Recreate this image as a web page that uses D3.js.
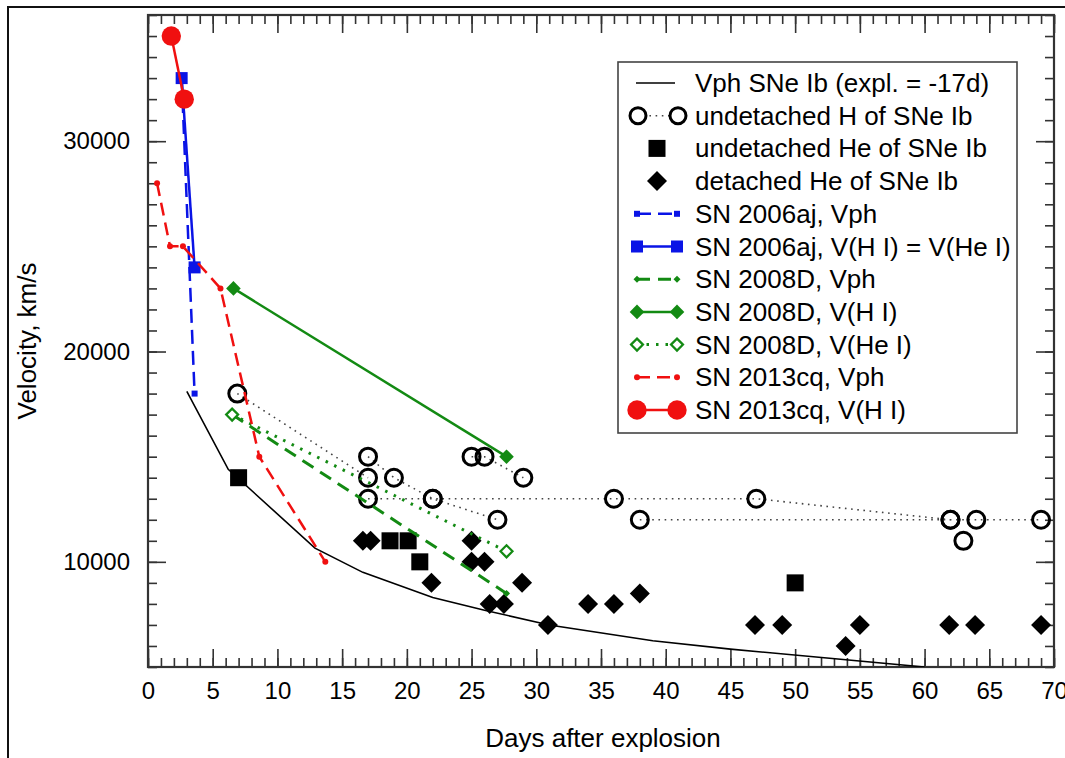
<!DOCTYPE html>
<html><head><meta charset="utf-8">
<script src="https://cdn.jsdelivr.net/npm/d3@7"></script>
<style>
body{margin:0;background:#fff;}
text{font-family:"Liberation Sans",Arial,Helvetica,sans-serif;fill:#000;}
</style></head><body>
<svg id="c" width="1065" height="758"></svg>
<script>
// ---- data ----
const xTicks = [0,5,10,15,20,25,30,35,40,45,50,55,60,65,70];
const yTicks = [10000,20000,30000];
const xLabel = "Days after explosion";
const yLabel = "Velocity, km/s";

// Vph of SNe Ib (expl. = -17d)
const vphIbDays = [3.0,6.2,12.9,16.6,22,26,31,39,45,60];
const vphIbVel  = [18100,14400,10650,9500,8300,7700,7000,6250,5850,5000];

// undetached H of SNe Ib (open circles, dotted lines per SN)
const hSeries = [
  {days:[6.9,17], vel:[18000,14000]},
  {days:[17,19,22,27], vel:[15000,14000,13000,12000]},
  {days:[17,22,36,47,62], vel:[13000,13000,13000,13000,12000]},
  {days:[25,26,29], vel:[15000,15000,14000]},
  {days:[38,62,64,69], vel:[12000,12000,12000,12000]},
  {days:[63], vel:[11000]}
];
// undetached He (filled squares)
const heSqDays = [7,18.7,20.1,21,50];
const heSqVel  = [14000,11000,11000,10000,9000];
// detached He (filled diamonds)
const heDiaDays = [16.6,17.2,21.9,25,25,26,26.4,27.5,28.9,30.9,34,36,38,46.9,49,53.9,55,61.9,63.9,69];
const heDiaVel  = [11000,11000,9000,11000,10000,10000,8000,8000,9000,7000,8000,8000,8500,7000,7000,6000,7000,7000,7000,7000];

// SN 2006aj
const aj06VphDays = [2.6,3.6];
const aj06VphVel  = [33000,18000];
const aj06HDays = [2.6,3.6];
const aj06HVel  = [33000,24000];
// SN 2008D
const d08VphDays = [6.5,27.7];
const d08VphVel  = [17000,8500];
const d08HDays = [6.6,27.7];
const d08HVel  = [23000,15000];
const d08HeDays = [6.5,27.7];
const d08HeVel  = [17000,10500];
// SN 2013cq
const cq13VphDays = [0.7,1.7,2.7,5.6,8.6,13.7];
const cq13VphVel  = [28000,25000,25000,23000,15000,10000];
const cq13HDays = [1.8,2.8];
const cq13HVel  = [35000,32000];

const legendLabels = [
  "Vph SNe Ib (expl. = -17d)",
  "undetached H of SNe Ib",
  "undetached He of SNe Ib",
  "detached He of SNe Ib",
  "SN 2006aj, Vph",
  "SN 2006aj, V(H I) = V(He I)",
  "SN 2008D, Vph",
  "SN 2008D, V(H I)",
  "SN 2008D, V(He I)",
  "SN 2013cq, Vph",
  "SN 2013cq, V(H I)"
];

// ---- drawing ----
const svg = d3.select("#c");
const L=148,R=1054,T=15,B=667;
const x = d3.scaleLinear().domain([0,70]).range([L,R]);
const y = d3.scaleLinear().domain([5000,36000]).range([B,T]);
const zip = (a,b)=>a.map((v,i)=>[v,b[i]]);
const line = d3.line().x(d=>x(d[0])).y(d=>y(d[1]));

// outer frame
svg.append("rect").attr("x",8).attr("y",7).attr("width",1070).attr("height",770)
  .attr("fill","none").attr("stroke","#111").attr("stroke-width",2);

svg.append("defs").append("clipPath").attr("id","pc")
  .append("rect").attr("x",L).attr("y",T).attr("width",R-L).attr("height",B-T);

// axes
const axCol="#333";
function styleAxis(g){ g.select(".domain").remove(); g.selectAll("line").attr("stroke",axCol).attr("stroke-width",1.6); g.selectAll("text").style("font-size","24px").attr("fill","#000"); }
const minorX = d3.range(0,71,1), minorY = d3.range(5000,36001,1000);
svg.append("g").attr("transform",`translate(0,${B})`).call(d3.axisBottom(x).tickValues(minorX).tickSize(-9).tickFormat("")).call(styleAxis);
svg.append("g").attr("transform",`translate(0,${B})`).call(d3.axisBottom(x).tickValues(xTicks).tickSize(-18).tickPadding(15).tickFormat(d3.format("d"))).call(styleAxis);
svg.append("g").attr("transform",`translate(0,${T})`).call(d3.axisTop(x).tickValues(minorX).tickSize(-9).tickFormat("")).call(styleAxis);
svg.append("g").attr("transform",`translate(0,${T})`).call(d3.axisTop(x).tickValues(xTicks).tickSize(-18).tickFormat("")).call(styleAxis);
svg.append("g").attr("transform",`translate(${L},0)`).call(d3.axisLeft(y).tickValues(minorY).tickSize(-9).tickFormat("")).call(styleAxis);
svg.append("g").attr("transform",`translate(${L},0)`).call(d3.axisLeft(y).tickValues(yTicks).tickSize(-18).tickPadding(18).tickFormat(d3.format("d"))).call(styleAxis);
svg.append("g").attr("transform",`translate(${R},0)`).call(d3.axisRight(y).tickValues(minorY).tickSize(-9).tickFormat("")).call(styleAxis);
svg.append("g").attr("transform",`translate(${R},0)`).call(d3.axisRight(y).tickValues(yTicks).tickSize(-18).tickFormat("")).call(styleAxis);
svg.append("rect").attr("x",L).attr("y",T).attr("width",R-L).attr("height",B-T)
  .attr("fill","none").attr("stroke",axCol).attr("stroke-width",2.2);

svg.append("text").attr("x",(L+R)/2+2).attr("y",747).attr("text-anchor","middle").style("font-size","26px").text(xLabel);
svg.append("text").attr("transform",`translate(36,${(T+B)/2}) rotate(-90)`).attr("text-anchor","middle").style("font-size","26px").text(yLabel);

const plot = svg.append("g").attr("clip-path","url(#pc)");

// marker helpers
function diamond(g,cx,cy,h,fill,stroke,sw){
  g.append("path").attr("d",`M${cx},${cy-h}L${cx+h},${cy}L${cx},${cy+h}L${cx-h},${cy}Z`)
   .attr("fill",fill).attr("stroke",stroke||"none").attr("stroke-width",sw||0);
}
function square(g,cx,cy,s,fill){
  g.append("rect").attr("x",cx-s/2).attr("y",cy-s/2).attr("width",s).attr("height",s).attr("fill",fill);
}
function circle(g,cx,cy,r,fill,stroke,sw){
  g.append("circle").attr("cx",cx).attr("cy",cy).attr("r",r).attr("fill",fill).attr("stroke",stroke||"none").attr("stroke-width",sw||0);
}

const styles = {
  ib:   {stroke:"#000", w:1.6, dash:null},
  hdot: {stroke:"#444", w:1.6, dash:"1.6,4.6"},
  ajV:  {stroke:"#0a14e6", w:2.5, dash:"14,7"},
  ajH:  {stroke:"#0a14e6", w:2.5, dash:null},
  dV:   {stroke:"#138a13", w:3, dash:"13,8"},
  dH:   {stroke:"#138a13", w:2.5, dash:null},
  dHe:  {stroke:"#138a13", w:3, dash:"2.5,7"},
  cqV:  {stroke:"#f01010", w:2.5, dash:"13,7"},
  cqH:  {stroke:"#f01010", w:2.5, dash:null}
};
function drawLine(g,pts,st){
  g.append("path").datum(pts).attr("d",line).attr("fill","none")
   .attr("stroke",st.stroke).attr("stroke-width",st.w).attr("stroke-dasharray",st.dash);
}

// Vph SNe Ib
drawLine(plot,zip(vphIbDays,vphIbVel),styles.ib);
// undetached H
hSeries.forEach(s=>{ if(s.days.length>1) drawLine(plot,zip(s.days,s.vel),styles.hdot); });
hSeries.forEach(s=>zip(s.days,s.vel).forEach(d=>circle(plot,x(d[0]),y(d[1]),8.5,"none","#000",3)));
// undetached He squares
zip(heSqDays,heSqVel).forEach(d=>square(plot,x(d[0]),y(d[1]),17,"#000"));
// detached He diamonds
zip(heDiaDays,heDiaVel).forEach(d=>diamond(plot,x(d[0]),y(d[1]),10,"#000"));
// 2006aj
drawLine(plot,zip(aj06VphDays,aj06VphVel),styles.ajV);
zip(aj06VphDays,aj06VphVel).forEach(d=>square(plot,x(d[0]),y(d[1]),6,"#0a14e6"));
drawLine(plot,zip(aj06HDays,aj06HVel),styles.ajH);
zip(aj06HDays,aj06HVel).forEach(d=>square(plot,x(d[0]),y(d[1]),12,"#0a14e6"));
// 2008D
drawLine(plot,zip(d08VphDays,d08VphVel),styles.dV);
zip(d08VphDays,d08VphVel).forEach(d=>diamond(plot,x(d[0]),y(d[1]),3.5,"#138a13"));
drawLine(plot,zip(d08HDays,d08HVel),styles.dH);
zip(d08HDays,d08HVel).forEach(d=>diamond(plot,x(d[0]),y(d[1]),7.3,"#138a13"));
drawLine(plot,zip(d08HeDays,d08HeVel),styles.dHe);
zip(d08HeDays,d08HeVel).forEach(d=>diamond(plot,x(d[0]),y(d[1]),6,"#fff","#138a13",2.2));
// 2013cq
drawLine(plot,zip(cq13VphDays,cq13VphVel),styles.cqV);
zip(cq13VphDays,cq13VphVel).forEach(d=>circle(plot,x(d[0]),y(d[1]),3,"#f01010"));
drawLine(plot,zip(cq13HDays,cq13HVel),styles.cqH);
zip(cq13HDays,cq13HVel).forEach(d=>circle(plot,x(d[0]),y(d[1]),9.7,"#f01010"));

// legend
const lg = svg.append("g");
lg.append("rect").attr("x",618).attr("y",62).attr("width",399).attr("height",371)
  .attr("fill","#fff").attr("stroke","#444").attr("stroke-width",1.6);
const rowY = i => 83 + i*32.7;
const x1=637,x2=677,xm=657;
function lline(i,st){ lg.append("line").attr("x1",x1).attr("x2",x2).attr("y1",rowY(i)).attr("y2",rowY(i))
  .attr("stroke",st.stroke).attr("stroke-width",st.w).attr("stroke-dasharray",st.dash); }
lg.append("line").attr("x1",636).attr("x2",675).attr("y1",rowY(0)).attr("y2",rowY(0)).attr("stroke","#000").attr("stroke-width",1.6);
lline(1,styles.hdot); circle(lg,638,rowY(1),8,"#fff","#000",3); circle(lg,678,rowY(1),8,"#fff","#000",3);
square(lg,xm,rowY(2),17,"#000");
diamond(lg,xm,rowY(3),10,"#000");
lline(4,styles.ajV); square(lg,x1,rowY(4),6,"#0a14e6"); square(lg,x2,rowY(4),6,"#0a14e6");
lline(5,styles.ajH); square(lg,x1,rowY(5),12,"#0a14e6"); square(lg,x2,rowY(5),12,"#0a14e6");
lline(6,styles.dV); diamond(lg,x1,rowY(6),3.5,"#138a13"); diamond(lg,x2,rowY(6),3.5,"#138a13");
lline(7,styles.dH); diamond(lg,x1,rowY(7),7.3,"#138a13"); diamond(lg,x2,rowY(7),7.3,"#138a13");
lline(8,styles.dHe); diamond(lg,x1,rowY(8),6,"#fff","#138a13",2.2); diamond(lg,x2,rowY(8),6,"#fff","#138a13",2.2);
lline(9,styles.cqV); circle(lg,x1,rowY(9),3,"#f01010"); circle(lg,x2,rowY(9),3,"#f01010");
lline(10,styles.cqH); circle(lg,x1,rowY(10),9.7,"#f01010"); circle(lg,x2,rowY(10),9.7,"#f01010");
legendLabels.forEach((t,i)=>lg.append("text").attr("x",695).attr("y",rowY(i)+9).style("font-size","26px").text(t));
</script></body></html>
